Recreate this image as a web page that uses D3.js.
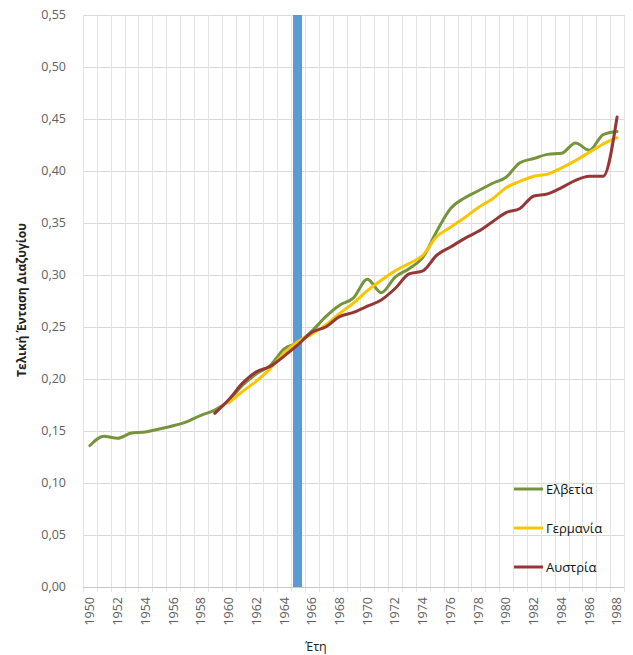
<!DOCTYPE html>
<html>
<head>
<meta charset="utf-8">
<script src="https://cdn.jsdelivr.net/npm/d3@7"></script>
<style>
  html, body { margin: 0; padding: 0; background: #fff; }
  svg { display: block; }
  text { font-family: "Open Sans", "DejaVu Sans", sans-serif; }
</style>
</head>
<body>
<svg id="chart" width="633" height="655"></svg>
<script>
// ---- data ----
const years = d3.range(1950, 1989);
const yTicks = [0, 0.05, 0.10, 0.15, 0.20, 0.25, 0.30, 0.35, 0.40, 0.45, 0.50, 0.55];
const xTickYears = d3.range(1950, 1989, 2);
const markerYear = 1965;

const switzerlandYears = d3.range(1950, 1989);
const switzerland = [0.136, 0.145, 0.143, 0.148, 0.149, 0.152, 0.155, 0.159, 0.165, 0.170,
  0.179, 0.194, 0.205, 0.213, 0.229, 0.235, 0.246, 0.260, 0.271, 0.278,
  0.296, 0.283, 0.298, 0.306, 0.317, 0.342, 0.364, 0.374, 0.381, 0.388,
  0.394, 0.408, 0.412, 0.416, 0.417, 0.427, 0.420, 0.435, 0.438];

const germanyYears = d3.range(1960, 1989);
const germany = [0.177, 0.188, 0.198, 0.210, 0.225, 0.236, 0.243, 0.252, 0.263, 0.273,
  0.285, 0.295, 0.304, 0.311, 0.319, 0.337, 0.346, 0.355, 0.365, 0.373,
  0.384, 0.390, 0.395, 0.397, 0.403, 0.410, 0.418, 0.426, 0.432];

const austriaYears = d3.range(1959, 1989);
const austria = [0.167, 0.180, 0.196, 0.207, 0.212, 0.222, 0.233, 0.245, 0.250, 0.260, 0.264,
  0.270, 0.276, 0.287, 0.301, 0.304, 0.319, 0.327, 0.335, 0.342, 0.351,
  0.360, 0.364, 0.376, 0.378, 0.384, 0.391, 0.395, 0.395, 0.452];

const seriesNames = ["Ελβετία", "Γερμανία", "Αυστρία"];
const seriesColors = ["#77933C", "#F7C600", "#953735"];

(function () {
const series = [
  { name: seriesNames[0], color: seriesColors[0], pts: switzerlandYears.map((yr, i) => [yr, switzerland[i]]) },
  { name: seriesNames[1], color: seriesColors[1], pts: germanyYears.map((yr, i) => [yr, germany[i]]) },
  { name: seriesNames[2], color: seriesColors[2], pts: austriaYears.map((yr, i) => [yr, austria[i]]) }
];

// ---- layout ----
const svg = d3.select("#chart");
const pL = 83, pR = 624, pT = 15, pB = 587;

const x = d3.scaleBand().domain(years).range([pL, pR]).paddingInner(0).paddingOuter(0);
const xc = yr => x(yr) + x.bandwidth() / 2;
const y = d3.scaleLinear().domain([0, 0.55]).range([pB, pT]);
const fmt = v => d3.format(".2f")(v).replace(".", ",");

// horizontal gridlines
svg.append("g").selectAll("line").data(yTicks).join("line")
  .attr("x1", pL).attr("x2", pR)
  .attr("y1", d => Math.round(y(d)) + 0.5).attr("y2", d => Math.round(y(d)) + 0.5)
  .attr("stroke", "#d9d9d9").attr("stroke-width", 1);

// vertical gridlines at category boundaries
const bounds = years.map(yr => x(yr)).concat([pR]);
svg.append("g").selectAll("line").data(bounds).join("line")
  .attr("x1", d => Math.round(d) + 0.5).attr("x2", d => Math.round(d) + 0.5)
  .attr("y1", pT).attr("y2", pB + 5)
  .attr("stroke", "#e3e3e3").attr("stroke-width", 1);

// bottom axis line
svg.append("line")
  .attr("x1", pL).attr("x2", pR)
  .attr("y1", pB + 0.5).attr("y2", pB + 0.5)
  .attr("stroke", "#c8c8c8");

// y tick labels
svg.append("g").selectAll("text").data(yTicks).join("text")
  .attr("x", 66).attr("y", d => y(d)).attr("dy", "0.35em")
  .attr("text-anchor", "end")
  .attr("font-size", 12.5).attr("fill", "#606060")
  .text(fmt);

// x tick labels
svg.append("g").selectAll("text").data(xTickYears).join("text")
  .attr("transform", d => `translate(${xc(d)},${pB + 10}) rotate(-90)`)
  .attr("dy", "0.35em")
  .attr("text-anchor", "end")
  .attr("font-size", 12.5).attr("fill", "#606060")
  .text(d => d);

// axis titles
svg.append("text")
  .attr("transform", `translate(26,300) rotate(-90)`)
  .attr("text-anchor", "middle")
  .attr("font-size", 12).attr("font-weight", "bold").attr("fill", "#222")
  .text("Τελική Ένταση Διαζυγίου");

svg.append("text")
  .attr("x", 316).attr("y", 651)
  .attr("text-anchor", "middle")
  .attr("font-size", 12.5).attr("fill", "#222")
  .text("Έτη");

// blue marker bar
svg.append("rect")
  .attr("x", xc(markerYear) - 5).attr("y", pT)
  .attr("width", 9).attr("height", pB - pT)
  .attr("fill", "#5B9BD5");

// lines
const line = d3.line().x(d => xc(d[0])).y(d => y(d[1])).curve(d3.curveMonotoneX);
svg.append("g").selectAll("path").data(series).join("path")
  .attr("d", d => line(d.pts))
  .attr("fill", "none")
  .attr("stroke", d => d.color)
  .attr("stroke-width", 3)
  .attr("stroke-linejoin", "round").attr("stroke-linecap", "round");

// legend
const legendY = [489, 528, 567];
const lg = svg.append("g").selectAll("g").data(series).join("g")
  .attr("transform", (d, i) => `translate(514,${legendY[i]})`);
lg.append("line").attr("x1", 0).attr("x2", 29).attr("y1", 0).attr("y2", 0)
  .attr("stroke", d => d.color).attr("stroke-width", 3);
lg.append("text").attr("x", 32).attr("y", 0).attr("dy", "0.35em")
  .attr("font-size", 13).attr("fill", "#111")
  .text(d => d.name);
})();
</script>
</body>
</html>
